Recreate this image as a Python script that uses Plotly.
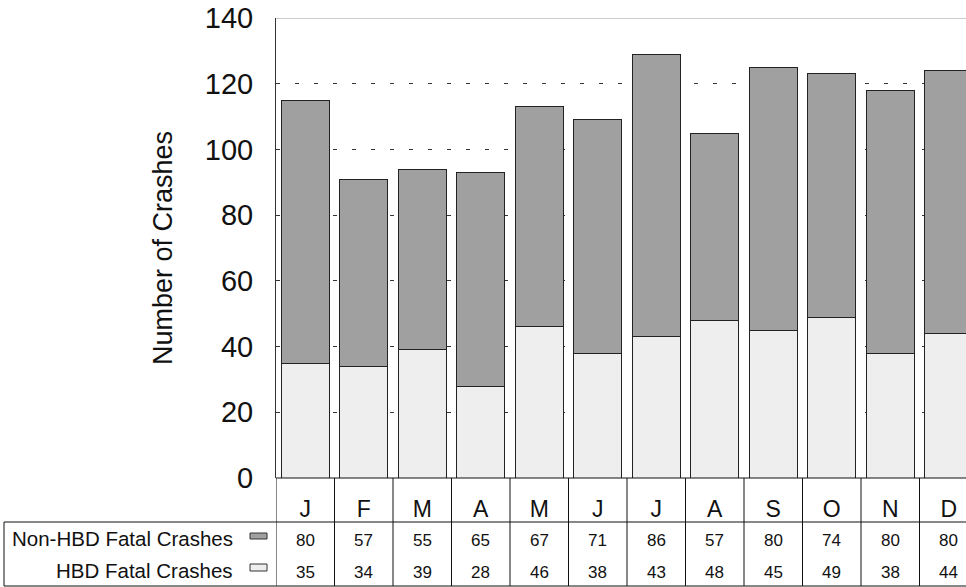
import plotly.graph_objects as go

months = ["J", "F", "M", "A", "M", "J", "J", "A", "S", "O", "N", "D"]
non_hbd = [80, 57, 55, 65, 67, 71, 86, 57, 80, 74, 80, 80]
hbd = [35, 34, 39, 28, 46, 38, 43, 48, 45, 49, 38, 44]
series_names = ["Non-HBD Fatal Crashes", "HBD Fatal Crashes"]
y_ticks = [0, 20, 40, 60, 80, 100, 120, 140]

W, H = 966, 587
L, R, T, B = 276, 0, 18, 109
PW, PH = W - L - R, H - T - B
col_px = 58.5

def px_x(p):
    return (p - L) / PW

def px_y(p):
    return (H - B - p) / PH

FONT = "Liberation Sans, Arial, Helvetica, sans-serif"
DARK = "#a0a0a0"
LIGHT = "#eeeeee"
EDGE = "#222222"

xs = list(range(len(months)))

fig = go.Figure()
fig.add_trace(go.Bar(x=xs, y=hbd, name=series_names[1], marker=dict(color=LIGHT, line=dict(color=EDGE, width=1)), width=0.82))
fig.add_trace(go.Bar(x=xs, y=non_hbd, name=series_names[0], marker=dict(color=DARK, line=dict(color=EDGE, width=1)), width=0.82))

shapes = []
shapes.append(dict(type="line", xref="paper", yref="y", x0=0, x1=1, y0=140, y1=140, line=dict(color="#999999", width=1), layer="below"))
shapes.append(dict(type="line", xref="paper", yref="paper", x0=0, x1=1, y0=0, y1=0, line=dict(color="#111111", width=1)))
for yy in [522, 586]:
    shapes.append(dict(type="line", xref="paper", yref="paper", x0=px_x(4), x1=1, y0=px_y(yy), y1=px_y(yy), line=dict(color="#111111", width=1)))
shapes.append(dict(type="line", xref="paper", yref="paper", x0=px_x(4), x1=px_x(4), y0=px_y(522), y1=px_y(586), line=dict(color="#111111", width=1)))
for i in range(len(months)):
    shapes.append(dict(type="line", xref="x", yref="paper", x0=i - 0.5, x1=i - 0.5, y0=0, y1=px_y(586), line=dict(color="#111111", width=1)))
for (y0, y1), col in [((533, 539), DARK), ((564, 571), LIGHT)]:
    shapes.append(dict(type="rect", xref="paper", yref="paper", x0=px_x(250), x1=px_x(267), y0=px_y(y1), y1=px_y(y0), fillcolor=col, line=dict(color="#333333", width=1)))

annotations = []
row_y = [538, 570]
for name, yy in zip(series_names, row_y):
    annotations.append(dict(text=name, xref="paper", yref="paper", x=px_x(235), y=px_y(yy), xanchor="right", yanchor="middle", showarrow=False, font=dict(family=FONT, size=20.5, color="#111111")))
for vals, yy in zip([non_hbd, hbd], row_y):
    for i, v in enumerate(vals):
        annotations.append(dict(text=str(v), xref="x", yref="paper", x=i, y=px_y(yy + 2), xanchor="center", yanchor="middle", showarrow=False, font=dict(family=FONT, size=17, color="#111111")))

fig.update_layout(
    width=W, height=H,
    margin=dict(l=L, r=R, t=T, b=B),
    barmode="stack",
    showlegend=False,
    plot_bgcolor="white",
    paper_bgcolor="white",
    font=dict(family=FONT, color="#111111"),
    shapes=shapes,
    annotations=annotations,
)
fig.update_xaxes(
    range=[-0.5, -0.5 + PW / col_px],
    tickmode="array", tickvals=xs, ticktext=months,
    tickfont=dict(family=FONT, size=23, color="#111111"),
    ticks="", showgrid=False, zeroline=False, showline=False,
    ticklabelstandoff=15,
)
fig.update_yaxes(
    range=[0, 140],
    tickmode="array", tickvals=y_ticks,
    tickfont=dict(family=FONT, size=29, color="#111111"),
    ticks="inside", ticklen=4, tickcolor="#333333",
    showline=True, linecolor="#333333", linewidth=1,
    showgrid=True, gridcolor="#333333", griddash="4px,15px", gridwidth=1,
    zeroline=False,
    ticklabelstandoff=16,
    title=dict(text="Number of Crashes", font=dict(family=FONT, size=27, color="#111111"), standoff=24),
)

fig.write_html("out.html", config={"displayModeBar": False},
               post_script="document.body.style.margin='0px';document.body.style.overflow='hidden';")
